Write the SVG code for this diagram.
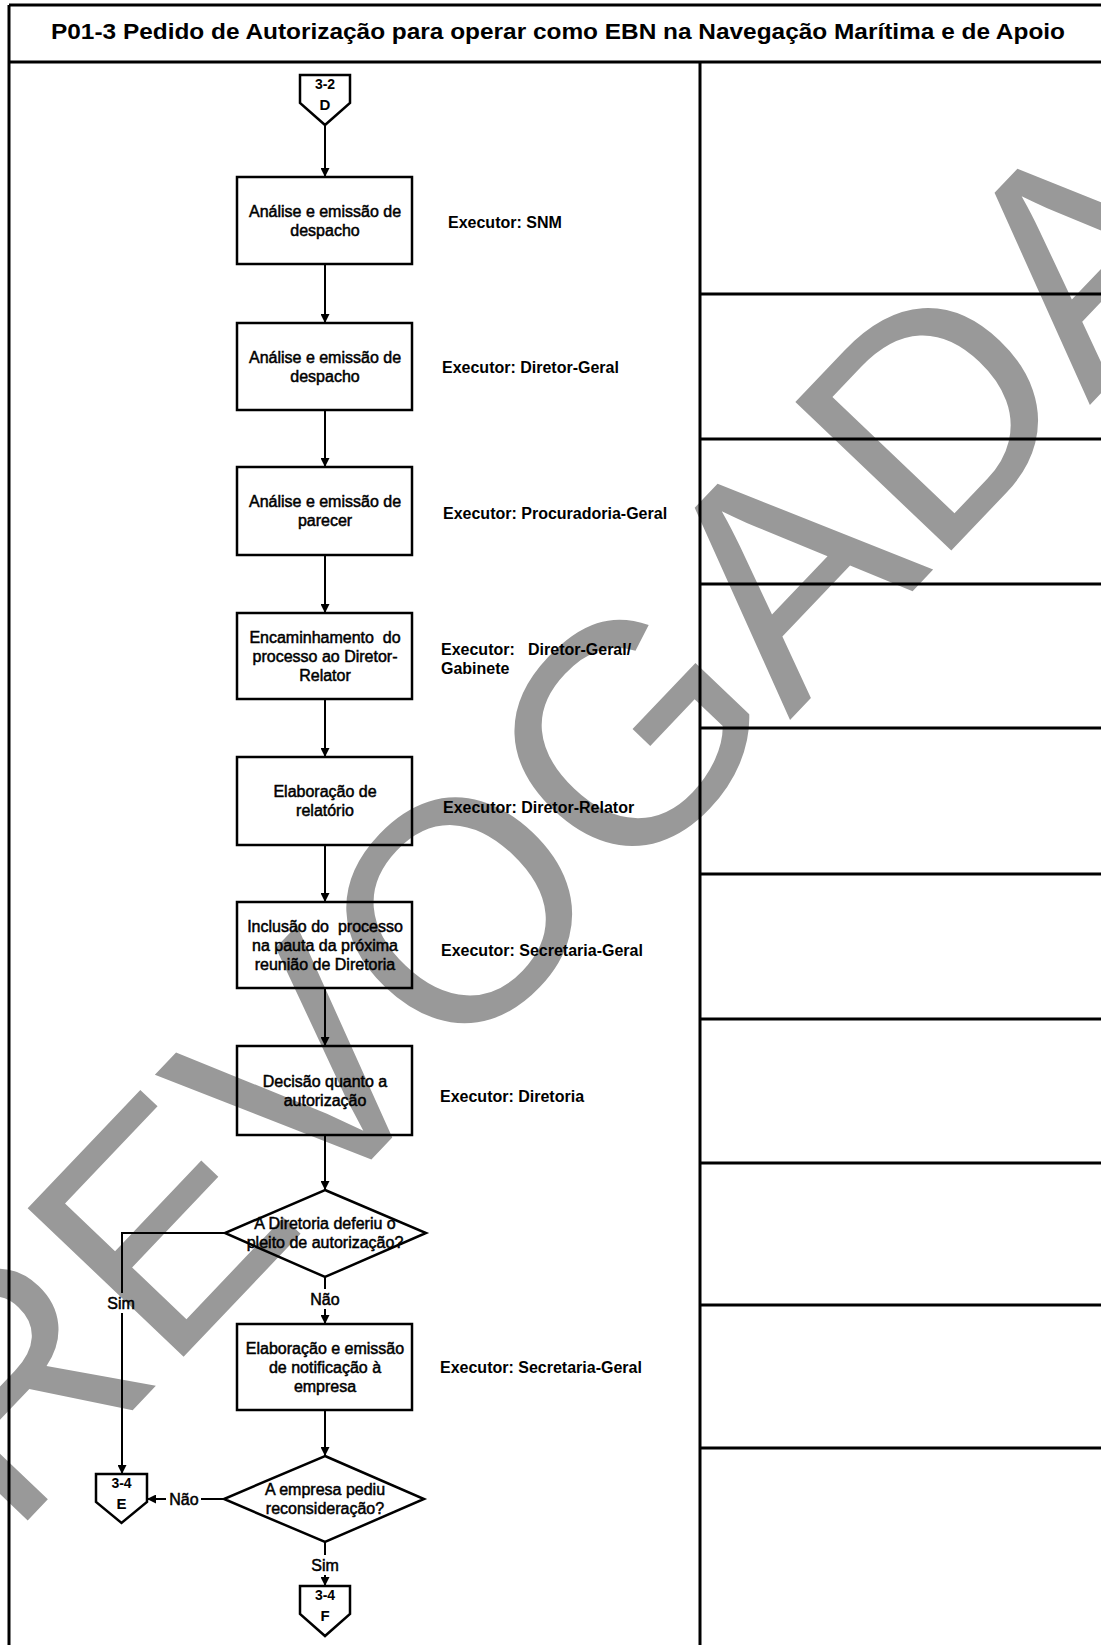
<svg xmlns="http://www.w3.org/2000/svg" width="1101" height="1645" viewBox="0 0 1101 1645">
<style>
.frame{stroke:#000;stroke-width:3;fill:none}
.shape{stroke:#000;stroke-width:2.5;fill:none}
.conn{stroke:#000;stroke-width:2;fill:none}
.arr{marker-end:url(#ah)}
.bt{font-family:"Liberation Sans",Arial,sans-serif;font-size:16px;fill:#000;stroke:#000;stroke-width:0.5;text-anchor:middle}
.ex{font-family:"Liberation Sans",Arial,sans-serif;font-size:16px;font-weight:bold;fill:#000}
.lb{font-family:"Liberation Sans",Arial,sans-serif;font-size:16px;fill:#000;stroke:#000;stroke-width:0.5;text-anchor:middle}
.ct{font-family:"Liberation Sans",Arial,sans-serif;font-size:14px;font-weight:bold;fill:#000;text-anchor:middle}
.cl{font-family:"Liberation Sans",Arial,sans-serif;font-size:15px;font-weight:bold;fill:#000;text-anchor:middle}
.title{font-family:"Liberation Sans",Arial,sans-serif;font-size:22px;font-weight:bold;fill:#000;text-anchor:middle}
.wm{font-family:"Liberation Sans",Arial,sans-serif;font-size:313px;fill:#999}
</style>
<defs>
<marker id="ah" viewBox="0 0 10 10" refX="10" refY="5" markerWidth="9" markerHeight="9" markerUnits="userSpaceOnUse" orient="auto">
<path d="M0,0 L10,5 L0,10 z" fill="#000"/>
</marker>
</defs>
<rect width="1101" height="1645" fill="#fff"/>
<text id="watermark" class="wm" transform="translate(10,1539) rotate(-46.4)">REVOGADA</text>

<g id="frame">
<line class="frame" x1="9" y1="5" x2="9" y2="1645"/>
<line class="frame" x1="9" y1="5" x2="1101" y2="5"/>
<line class="frame" x1="9" y1="62" x2="1101" y2="62"/>
<line class="frame" x1="700" y1="62" x2="700" y2="1645"/>
<line class="frame" x1="700" y1="294" x2="1101" y2="294"/>
<line class="frame" x1="700" y1="439" x2="1101" y2="439"/>
<line class="frame" x1="700" y1="584" x2="1101" y2="584"/>
<line class="frame" x1="700" y1="728" x2="1101" y2="728"/>
<line class="frame" x1="700" y1="874" x2="1101" y2="874"/>
<line class="frame" x1="700" y1="1019" x2="1101" y2="1019"/>
<line class="frame" x1="700" y1="1163" x2="1101" y2="1163"/>
<line class="frame" x1="700" y1="1305" x2="1101" y2="1305"/>
<line class="frame" x1="700" y1="1448" x2="1101" y2="1448"/>
<text class="title" x="558" y="39" textLength="1014" lengthAdjust="spacingAndGlyphs">P01-3 Pedido de Autorização para operar como EBN na Navegação Marítima e de Apoio</text>
</g>

<g id="connectors">
<line class="conn arr" x1="325" y1="125" x2="325" y2="177"/>
<line class="conn arr" x1="325" y1="264" x2="325" y2="323"/>
<line class="conn arr" x1="325" y1="410" x2="325" y2="467"/>
<line class="conn arr" x1="325" y1="555" x2="325" y2="613"/>
<line class="conn arr" x1="325" y1="699" x2="325" y2="757"/>
<line class="conn arr" x1="325" y1="845" x2="325" y2="902"/>
<line class="conn arr" x1="325" y1="988" x2="325" y2="1046"/>
<line class="conn arr" x1="325" y1="1135" x2="325" y2="1190"/>
<line class="conn" x1="325" y1="1277" x2="325" y2="1289"/>
<line class="conn arr" x1="325" y1="1309" x2="325" y2="1324"/>
<text class="lb" x="325" y="1305">Não</text>
<polyline class="conn" points="225,1233 122,1233 122,1293"/>
<line class="conn arr" x1="122" y1="1313" x2="122" y2="1474"/>
<text class="lb" x="121" y="1309">Sim</text>
<line class="conn arr" x1="325" y1="1410" x2="325" y2="1456"/>
<line class="conn" x1="224" y1="1499" x2="201" y2="1499"/>
<line class="conn arr" x1="166" y1="1499" x2="147" y2="1499"/>
<text class="lb" x="184" y="1505">Não</text>
<line class="conn" x1="325" y1="1542" x2="325" y2="1555"/>
<line class="conn arr" x1="325" y1="1575" x2="325" y2="1586"/>
<text class="lb" x="325" y="1571">Sim</text>
</g>

<g id="conD">
<polygon class="shape" points="300,75 350,75 350,103 325,125 300,103"/>
<text class="ct" x="325" y="89">3-2</text>
<text class="cl" x="325" y="110">D</text>
</g>

<g id="n1">
<rect class="shape" x="237" y="177" width="175" height="87"/>
<text class="bt" x="325" y="216.5">Análise e emissão de</text>
<text class="bt" x="325" y="235.5">despacho</text>
<text class="ex" x="448" y="228">Executor: SNM</text>
</g>

<g id="n2">
<rect class="shape" x="237" y="323" width="175" height="87"/>
<text class="bt" x="325" y="362.5">Análise e emissão de</text>
<text class="bt" x="325" y="381.5">despacho</text>
<text class="ex" x="442" y="373">Executor: Diretor-Geral</text>
</g>

<g id="n3">
<rect class="shape" x="237" y="467" width="175" height="88"/>
<text class="bt" x="325" y="507">Análise e emissão de</text>
<text class="bt" x="325" y="526">parecer</text>
<text class="ex" x="443" y="519">Executor: Procuradoria-Geral</text>
</g>

<g id="n4">
<rect class="shape" x="237" y="613" width="175" height="86"/>
<text class="bt" x="325" y="642.5">Encaminhamento&#160; do</text>
<text class="bt" x="325" y="661.5">processo ao Diretor-</text>
<text class="bt" x="325" y="680.5">Relator</text>
<text class="ex" y="655"><tspan x="441">Executor:</tspan><tspan x="528">Diretor-Geral/</tspan></text>
<text class="ex" x="441" y="674">Gabinete</text>
</g>

<g id="n5">
<rect class="shape" x="237" y="757" width="175" height="88"/>
<text class="bt" x="325" y="797">Elaboração de</text>
<text class="bt" x="325" y="816">relatório</text>
<text class="ex" x="443" y="813">Executor: Diretor-Relator</text>
</g>

<g id="n6">
<rect class="shape" x="237" y="902" width="175" height="86"/>
<text class="bt" x="325" y="931.5">Inclusão do&#160; processo</text>
<text class="bt" x="325" y="950.5">na pauta da próxima</text>
<text class="bt" x="325" y="969.5">reunião de Diretoria</text>
<text class="ex" x="441" y="956">Executor: Secretaria-Geral</text>
</g>

<g id="n7">
<rect class="shape" x="237" y="1046" width="175" height="89"/>
<text class="bt" x="325" y="1086.5">Decisão quanto a</text>
<text class="bt" x="325" y="1105.5">autorização</text>
<text class="ex" x="440" y="1102">Executor: Diretoria</text>
</g>

<g id="d1">
<polygon class="shape" points="325,1190 426,1233 325,1277 225,1233"/>
<text class="bt" x="325" y="1229">A Diretoria deferiu o</text>
<text class="bt" x="325" y="1248">pleito de autorização?</text>
</g>

<g id="n8">
<rect class="shape" x="237" y="1324" width="175" height="86"/>
<text class="bt" x="325" y="1353.5">Elaboração e emissão</text>
<text class="bt" x="325" y="1372.5">de notificação à</text>
<text class="bt" x="325" y="1391.5">empresa</text>
<text class="ex" x="440" y="1373">Executor: Secretaria-Geral</text>
</g>

<g id="d2">
<polygon class="shape" points="325,1456 424,1499 325,1542 224,1499"/>
<text class="bt" x="325" y="1495">A empresa pediu</text>
<text class="bt" x="325" y="1514">reconsideração?</text>
</g>

<g id="conE">
<polygon class="shape" points="96,1474 147,1474 147,1502 121.5,1523 96,1502"/>
<text class="ct" x="121.5" y="1488">3-4</text>
<text class="cl" x="121.5" y="1509">E</text>
</g>

<g id="conF">
<polygon class="shape" points="300,1586 350,1586 350,1614 325,1636 300,1614"/>
<text class="ct" x="325" y="1600">3-4</text>
<text class="cl" x="325" y="1621">F</text>
</g>
</svg>
